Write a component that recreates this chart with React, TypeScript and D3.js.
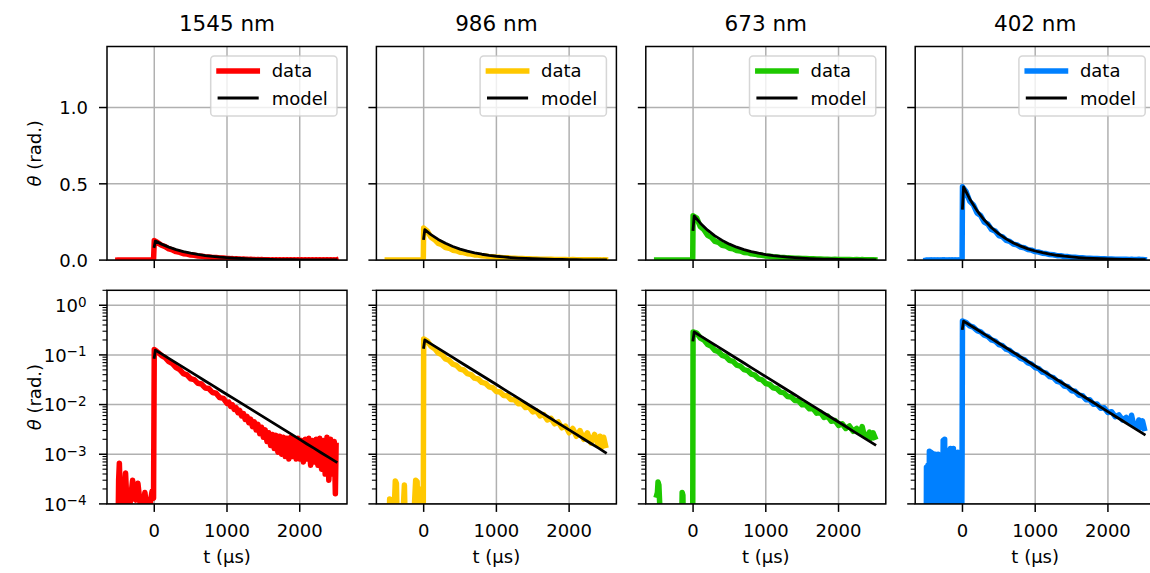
import React from 'react';
import * as d3 from 'd3';

type Pt = [number, number];

// ---- panel labels and colours ----
const PANEL_TITLES = ['1545 nm', '986 nm', '673 nm', '402 nm'];
const PANEL_COLORS = ['#ff0000', '#ffc800', '#1ec800', '#0080ff'];

// ---- axis ticks ----
const X_TICKS = [0, 1000, 2000];
const X_TICK_LABELS = ['0', '1000', '2000'];
const LIN_Y_TICKS = [0, 0.5, 1.0];
const LIN_Y_LABELS = ['0.0', '0.5', '1.0'];
const LOG_Y_TICKS = [1e-4, 1e-3, 1e-2, 1e-1, 1];
const LOG_Y_EXPONENTS = ['−4', '−3', '−2', '−1', '0'];
const X_DOMAIN: [number, number] = [-650, 2650];
const LIN_Y_DOMAIN: [number, number] = [0, 1.4];
const LOG_Y_DOMAIN: [number, number] = [1e-4, 2];

// ---- fitted model, sampled in time (µs) ----
const MODEL_T = [0, 15, 100, 200, 300, 400, 500, 600, 700, 800, 900, 1000, 1100, 1200, 1300,
  1400, 1500, 1600, 1700, 1800, 1900, 2000, 2100, 2200, 2300, 2400, 2500];
const MODEL_1545 = [0.089, 0.125, 0.1047, 0.085, 0.069, 0.056, 0.0455, 0.0369, 0.0299, 0.0243,
  0.0197, 0.016, 0.013, 0.01055, 0.00857, 0.00695, 0.00565, 0.00458, 0.00372, 0.00302, 0.00245,
  0.00199, 0.00161, 0.00131, 0.00106, 0.000863, 0.000701];
const MODEL_986 = [0.142, 0.2, 0.1672, 0.1355, 0.1099, 0.0891, 0.0722, 0.0585, 0.0474, 0.0384,
  0.0312, 0.0253, 0.0205, 0.0166, 0.01346, 0.01091, 0.00885, 0.00718, 0.00581, 0.00471, 0.00382,
  0.0031, 0.00251, 0.00203, 0.00165, 0.00134, 0.00108];
const MODEL_673 = [0.2, 0.29, 0.2421, 0.1963, 0.1592, 0.1289, 0.1045, 0.0846, 0.0686, 0.0556,
  0.045, 0.0365, 0.0296, 0.0239, 0.0194, 0.01574, 0.01274, 0.01033, 0.00837, 0.00678, 0.0055,
  0.00446, 0.00361, 0.00292, 0.00237, 0.00192, 0.00156];
const MODEL_402 = [0.34, 0.48, 0.4009, 0.3243, 0.2624, 0.2123, 0.1718, 0.139, 0.1127, 0.0912,
  0.0738, 0.0597, 0.0483, 0.0391, 0.0317, 0.0256, 0.0207, 0.0168, 0.01358, 0.01099, 0.00891,
  0.00721, 0.00583, 0.00472, 0.00382, 0.00309, 0.00251];

// ---- measured traces [t (µs), θ (rad.)] ----
const DATA_1545: Pt[] = [
  [-500, 2e-5], [-490, 3e-4], [-480, 6.6e-4], [-470, 2e-4], [-455, 4e-5], [-440, 1.5e-4],
  [-410, 2e-4], [-395, 4.2e-4], [-380, 1.4e-4], [-350, 6e-5], [-320, 1.5e-4], [-298, 3e-4],
  [-280, 1.3e-4], [-255, 1.2e-4], [-225, 2.6e-4], [-205, 1.4e-4], [-180, 6e-5], [-150, 1.1e-4],
  [-129, 1.7e-4], [-110, 1e-4], [-74, 2e-5], [-50, 1.2e-4], [-30, 1.8e-4], [-10, 1.3e-4],
  [0, 0.128], [25, 0.121], [50, 0.113], [100, 0.097], [150, 0.088], [200, 0.073], [250, 0.0665],
  [300, 0.0553], [350, 0.0504], [400, 0.042], [450, 0.0395], [500, 0.0331], [550, 0.0318],
  [600, 0.0268], [650, 0.0259], [700, 0.0216], [750, 0.021], [800, 0.0175], [850, 0.0169],
  [900, 0.0138], [950, 0.0133], [1000, 0.0106], [1025, 0.0112], [1050, 0.0092], [1075, 0.0098],
  [1100, 0.008], [1125, 0.0087], [1150, 0.0069], [1175, 0.0076], [1200, 0.0059], [1225, 0.0066],
  [1250, 0.005], [1275, 0.0058], [1300, 0.0043], [1325, 0.0051], [1350, 0.0036], [1375, 0.0045],
  [1400, 0.0031], [1425, 0.004], [1450, 0.0026], [1475, 0.0035], [1500, 0.0022], [1525, 0.0031],
  [1550, 0.0018], [1575, 0.0027], [1600, 0.0015], [1625, 0.0025], [1650, 0.0013], [1675, 0.0024],
  [1700, 0.0011], [1725, 0.0023], [1750, 0.001], [1775, 0.0022], [1800, 0.0009], [1825, 0.0021],
  [1850, 0.0008], [1875, 0.0022], [1900, 0.0009], [1925, 0.002], [1950, 0.0008], [1975, 0.0021],
  [2000, 0.0008], [2025, 0.0019], [2050, 0.0007], [2075, 0.002], [2100, 0.0008], [2125, 0.0021],
  [2150, 0.0006], [2175, 0.0019], [2200, 0.0007], [2225, 0.002], [2250, 0.0006], [2275, 0.0021],
  [2300, 0.0005], [2325, 0.0019], [2350, 0.0004], [2375, 0.0022], [2400, 0.0003], [2425, 0.002],
  [2450, 0.0004], [2475, 0.0018], [2490, 0.00016], [2500, 0.0015],
];

const DATA_986: Pt[] = [
  [-500, 2e-5], [-475, 2e-5], [-468, 1.25e-4], [-455, 2e-5], [-420, 2e-5], [-390, 2.9e-4],
  [-375, 2.6e-4], [-360, 2e-5], [-330, 5e-5], [-300, 2e-5], [-265, 2.4e-4], [-250, 2e-5],
  [-200, 3e-5], [-150, 2e-5], [-110, 3e-4], [-90, 2.8e-4], [-75, 2e-5], [-55, 2e-4], [-35, 1.8e-4],
  [-20, 2e-5], [-5, 1e-4],
  [0, 0.21], [50, 0.19], [100, 0.15], [150, 0.134], [200, 0.109], [250, 0.101], [300, 0.083],
  [350, 0.078], [400, 0.065], [450, 0.0615], [500, 0.0518], [550, 0.0496], [600, 0.042],
  [650, 0.0402], [700, 0.034], [750, 0.0328], [800, 0.0279], [850, 0.0268], [900, 0.0227],
  [950, 0.0218], [1000, 0.0183], [1050, 0.0179], [1100, 0.0152], [1150, 0.015], [1200, 0.0126],
  [1250, 0.0125], [1300, 0.0104], [1350, 0.0105], [1400, 0.0087], [1450, 0.0089], [1500, 0.0071],
  [1550, 0.0075], [1600, 0.0059], [1650, 0.0063], [1700, 0.0049], [1750, 0.0053], [1800, 0.0041],
  [1850, 0.0045], [1900, 0.0034], [1950, 0.0037], [2000, 0.0027], [2050, 0.0033], [2100, 0.0023],
  [2150, 0.003], [2200, 0.002], [2250, 0.0027], [2300, 0.0017], [2350, 0.0025], [2400, 0.0015],
  [2425, 0.0023], [2450, 0.0014], [2475, 0.0022], [2500, 0.0015],
];

const DATA_673: Pt[] = [
  [-500, 1.5e-4], [-490, 1.7e-4], [-482, 2.75e-4], [-470, 2.4e-4], [-460, 1.1e-4], [-450, 2e-5],
  [-300, 2e-5], [-160, 2e-5], [-150, 1.7e-4], [-140, 1.5e-4], [-130, 2e-5], [-5, 2e-5],
  [0, 0.29], [50, 0.275], [100, 0.219], [150, 0.199], [200, 0.162], [250, 0.15], [300, 0.123],
  [350, 0.116], [400, 0.0975], [450, 0.0925], [500, 0.078], [550, 0.0742], [600, 0.0624],
  [650, 0.0595], [700, 0.0505], [750, 0.0484], [800, 0.041], [850, 0.039], [900, 0.0328],
  [950, 0.0313], [1000, 0.0266], [1050, 0.0255], [1100, 0.0218], [1150, 0.021], [1200, 0.0178],
  [1250, 0.0172], [1300, 0.0146], [1350, 0.0142], [1400, 0.0121], [1450, 0.0119], [1500, 0.0099],
  [1550, 0.0099], [1600, 0.0082], [1650, 0.0083], [1700, 0.0067], [1750, 0.007], [1800, 0.0055],
  [1850, 0.0059], [1900, 0.0046], [1950, 0.0048], [2000, 0.0038], [2050, 0.0041], [2100, 0.0033],
  [2150, 0.0037], [2200, 0.0029], [2250, 0.0033], [2300, 0.0027], [2325, 0.0036], [2350, 0.0025],
  [2400, 0.0023], [2425, 0.0028], [2450, 0.0021], [2475, 0.0027], [2500, 0.0022],
];

const DATA_402: Pt[] = [
  [-500, 1e-6], [-495, 5.5e-4], [-485, 1e-6], [-475, 6e-4], [-465, 1e-6], [-455, 1.15e-3],
  [-445, 1e-6], [-435, 1.1e-3], [-425, 1e-6], [-415, 1.05e-3], [-405, 1e-6], [-395, 9e-4],
  [-385, 1e-6], [-375, 1e-3], [-365, 1e-6], [-355, 9.5e-4], [-345, 1e-6], [-335, 1e-3],
  [-325, 1e-6], [-315, 8.5e-4], [-305, 1e-6], [-295, 9e-4], [-285, 1e-6], [-265, 1.9e-3],
  [-255, 1e-6], [-245, 2e-3], [-235, 1e-6], [-225, 9.5e-4], [-215, 1e-6], [-205, 8.5e-4],
  [-195, 1e-6], [-185, 1.2e-3], [-175, 1e-6], [-165, 1.3e-3], [-155, 1e-6], [-145, 1.25e-3],
  [-135, 1e-6], [-125, 1.3e-3], [-115, 1e-6], [-105, 1.1e-3], [-95, 1e-6], [-85, 1e-3],
  [-75, 1e-6], [-65, 1.1e-3], [-55, 1e-6], [-45, 1.05e-3], [-35, 1e-6], [-25, 9e-4],
  [-15, 1e-6], [-5, 1.2e-3],
  [0, 0.48], [50, 0.448], [100, 0.385], [150, 0.362], [200, 0.309], [250, 0.292], [300, 0.249],
  [350, 0.235], [400, 0.2], [450, 0.19], [500, 0.161], [550, 0.153], [600, 0.13], [650, 0.123],
  [700, 0.105], [750, 0.0995], [800, 0.085], [850, 0.0806], [900, 0.0688], [950, 0.0652],
  [1000, 0.0556], [1050, 0.0528], [1100, 0.045], [1150, 0.0428], [1200, 0.0364], [1250, 0.0348],
  [1300, 0.0293], [1350, 0.0281], [1400, 0.0236], [1450, 0.0228], [1500, 0.019], [1550, 0.0185],
  [1600, 0.0154], [1650, 0.0151], [1700, 0.0125], [1750, 0.0125], [1800, 0.0102], [1850, 0.0103],
  [1900, 0.0084], [1950, 0.0086], [2000, 0.0069], [2050, 0.0072], [2100, 0.0057], [2150, 0.0062],
  [2200, 0.0049], [2250, 0.0055], [2300, 0.0044], [2325, 0.0061], [2350, 0.0041], [2400, 0.0036],
  [2425, 0.0049], [2450, 0.0034], [2475, 0.0047], [2500, 0.0033],
];

const DATA_SETS = [DATA_1545, DATA_986, DATA_673, DATA_402];
const MODEL_SETS = [MODEL_1545, MODEL_986, MODEL_673, MODEL_402];

// ---- layout ----
const W = 1150;
const H = 573;
const AX_LEFT0 = 107;
const COL_STEP = 269.4;
const AX_W = 240;
const ROW_TOP = [46.5, 290.3];
const AX_H = 213.6;
const FONT = 'DejaVu Sans, Liberation Sans, sans-serif';
const GRID = '#b0b0b0';
const MAJOR = 8;
const MINOR = 4.5;

function logMinorTicks(): number[] {
  const out: number[] = [];
  for (let k = -4; k <= 0; k++) {
    for (let m = 2; m <= 9; m++) {
      const v = m * Math.pow(10, k);
      if (v <= LOG_Y_DOMAIN[1] + 1e-12) out.push(v);
    }
  }
  return out;
}

function Panel({ col, row }: { col: number; row: number }) {
  const left = AX_LEFT0 + col * COL_STEP;
  const top = ROW_TOP[row];
  const right = left + AX_W;
  const bottom = top + AX_H;
  const isLog = row === 1;

  const x = d3.scaleLinear().domain(X_DOMAIN).range([left, right]);
  const y: any = isLog
    ? d3.scaleLog().domain(LOG_Y_DOMAIN).range([bottom, top])
    : d3.scaleLinear().domain(LIN_Y_DOMAIN).range([bottom, top]);

  const line = d3
    .line<Pt>()
    .x((d) => x(d[0]))
    .y((d) => y(d[1]));

  const data = DATA_SETS[col];
  const model: Pt[] = MODEL_T.map((t, i) => [t, MODEL_SETS[col][i]]);
  const color = PANEL_COLORS[col];
  const clipId = `clip-${row}-${col}`;
  const yMajor = isLog ? LOG_Y_TICKS : LIN_Y_TICKS;

  return (
    <g>
      <defs>
        <clipPath id={clipId}>
          <rect x={left} y={top} width={AX_W} height={AX_H} />
        </clipPath>
      </defs>

      {/* grid */}
      <g stroke={GRID} strokeWidth={1.5}>
        {X_TICKS.map((t) => (
          <line key={`gx${t}`} x1={x(t)} x2={x(t)} y1={top} y2={bottom} />
        ))}
        {yMajor.map((v) => (
          <line key={`gy${v}`} x1={left} x2={right} y1={y(v)} y2={y(v)} />
        ))}
      </g>

      {/* traces */}
      <g clipPath={`url(#${clipId})`} fill="none">
        <path
          d={line(data) || ''}
          stroke={color}
          strokeWidth={5.5}
          strokeLinecap="square"
          strokeLinejoin="round"
        />
        <path
          d={line(model) || ''}
          stroke="#000"
          strokeWidth={2.8}
          strokeLinecap="square"
          strokeLinejoin="round"
        />
      </g>

      {/* ticks */}
      <g stroke="#000" strokeWidth={1.5}>
        {X_TICKS.map((t) => (
          <line key={`tx${t}`} x1={x(t)} x2={x(t)} y1={bottom} y2={bottom + MAJOR} />
        ))}
        {yMajor.map((v) => (
          <line key={`ty${v}`} x1={left - MAJOR} x2={left} y1={y(v)} y2={y(v)} />
        ))}
      </g>
      {isLog && (
        <g stroke="#000" strokeWidth={1.1}>
          {logMinorTicks().map((v) => (
            <line key={`tm${v}`} x1={left - MINOR} x2={left} y1={y(v)} y2={y(v)} />
          ))}
        </g>
      )}

      {/* spines */}
      <rect x={left} y={top} width={AX_W} height={AX_H} fill="none" stroke="#000" strokeWidth={1.5} />

      {/* x tick labels and label on bottom row */}
      {isLog && (
        <g fontFamily={FONT} fontSize={18} fill="#000" textAnchor="middle">
          {X_TICKS.map((t, i) => (
            <text key={`lx${t}`} x={x(t)} y={bottom + 33.3}>
              {X_TICK_LABELS[i]}
            </text>
          ))}
          <text x={(left + right) / 2} y={bottom + 59.5}>
            t (µs)
          </text>
        </g>
      )}

      {/* y tick labels on first column */}
      {col === 0 && !isLog && (
        <g fontFamily={FONT} fontSize={18} fill="#000" textAnchor="end">
          {LIN_Y_TICKS.map((v, i) => (
            <text key={`ly${v}`} x={left - 19} y={y(v) + 6.7}>
              {LIN_Y_LABELS[i]}
            </text>
          ))}
        </g>
      )}
      {col === 0 && isLog && (
        <g fontFamily={FONT} fontSize={18} fill="#000" textAnchor="end">
          {LOG_Y_TICKS.map((v, i) => (
            <text key={`ly${v}`} x={left - 20.5} y={y(v) + 6.7}>
              <tspan>10</tspan>
              <tspan fontSize={13.5} dy={-5.2}>
                {LOG_Y_EXPONENTS[i]}
              </tspan>
            </text>
          ))}
        </g>
      )}
      {col === 0 && (
        <text
          transform={`translate(41,${(top + bottom) / 2}) rotate(-90)`}
          fontFamily={FONT}
          fontSize={18}
          textAnchor="middle"
          fill="#000"
        >
          <tspan fontStyle="italic">θ</tspan>
          <tspan> (rad.)</tspan>
        </text>
      )}

      {/* title and legend on top row */}
      {!isLog && (
        <g fontFamily={FONT} fill="#000">
          <text x={(left + right) / 2} y={30.7} fontSize={21.5} textAnchor="middle">
            {PANEL_TITLES[col]}
          </text>
          <rect
            x={right - 136.3}
            y={top + 9.5}
            width={126.3}
            height={60}
            rx={3.6}
            fill="#fff"
            fillOpacity={0.8}
            stroke="#cccccc"
            strokeOpacity={0.8}
            strokeWidth={1.5}
          />
          <line
            x1={right - 128}
            x2={right - 89.7}
            y1={top + 24.5}
            y2={top + 24.5}
            stroke={color}
            strokeWidth={5.5}
            strokeLinecap="square"
          />
          <line
            x1={right - 128}
            x2={right - 89.7}
            y1={top + 51.5}
            y2={top + 51.5}
            stroke="#000"
            strokeWidth={2.8}
            strokeLinecap="square"
          />
          <text x={right - 75.3} y={top + 30.8} fontSize={18}>
            data
          </text>
          <text x={right - 75.3} y={top + 58.8} fontSize={18}>
            model
          </text>
        </g>
      )}
    </g>
  );
}

export default function App() {
  const cols = [0, 1, 2, 3];
  return (
    <svg
      width={W}
      height={H}
      viewBox={`0 0 ${W} ${H}`}
      style={{ position: 'absolute', left: 0, top: 0, display: 'block' }}
    >
      <rect x={0} y={0} width={W} height={H} fill="#fff" />
      {cols.map((c) => (
        <Panel key={`t${c}`} col={c} row={0} />
      ))}
      {cols.map((c) => (
        <Panel key={`b${c}`} col={c} row={1} />
      ))}
    </svg>
  );
}
